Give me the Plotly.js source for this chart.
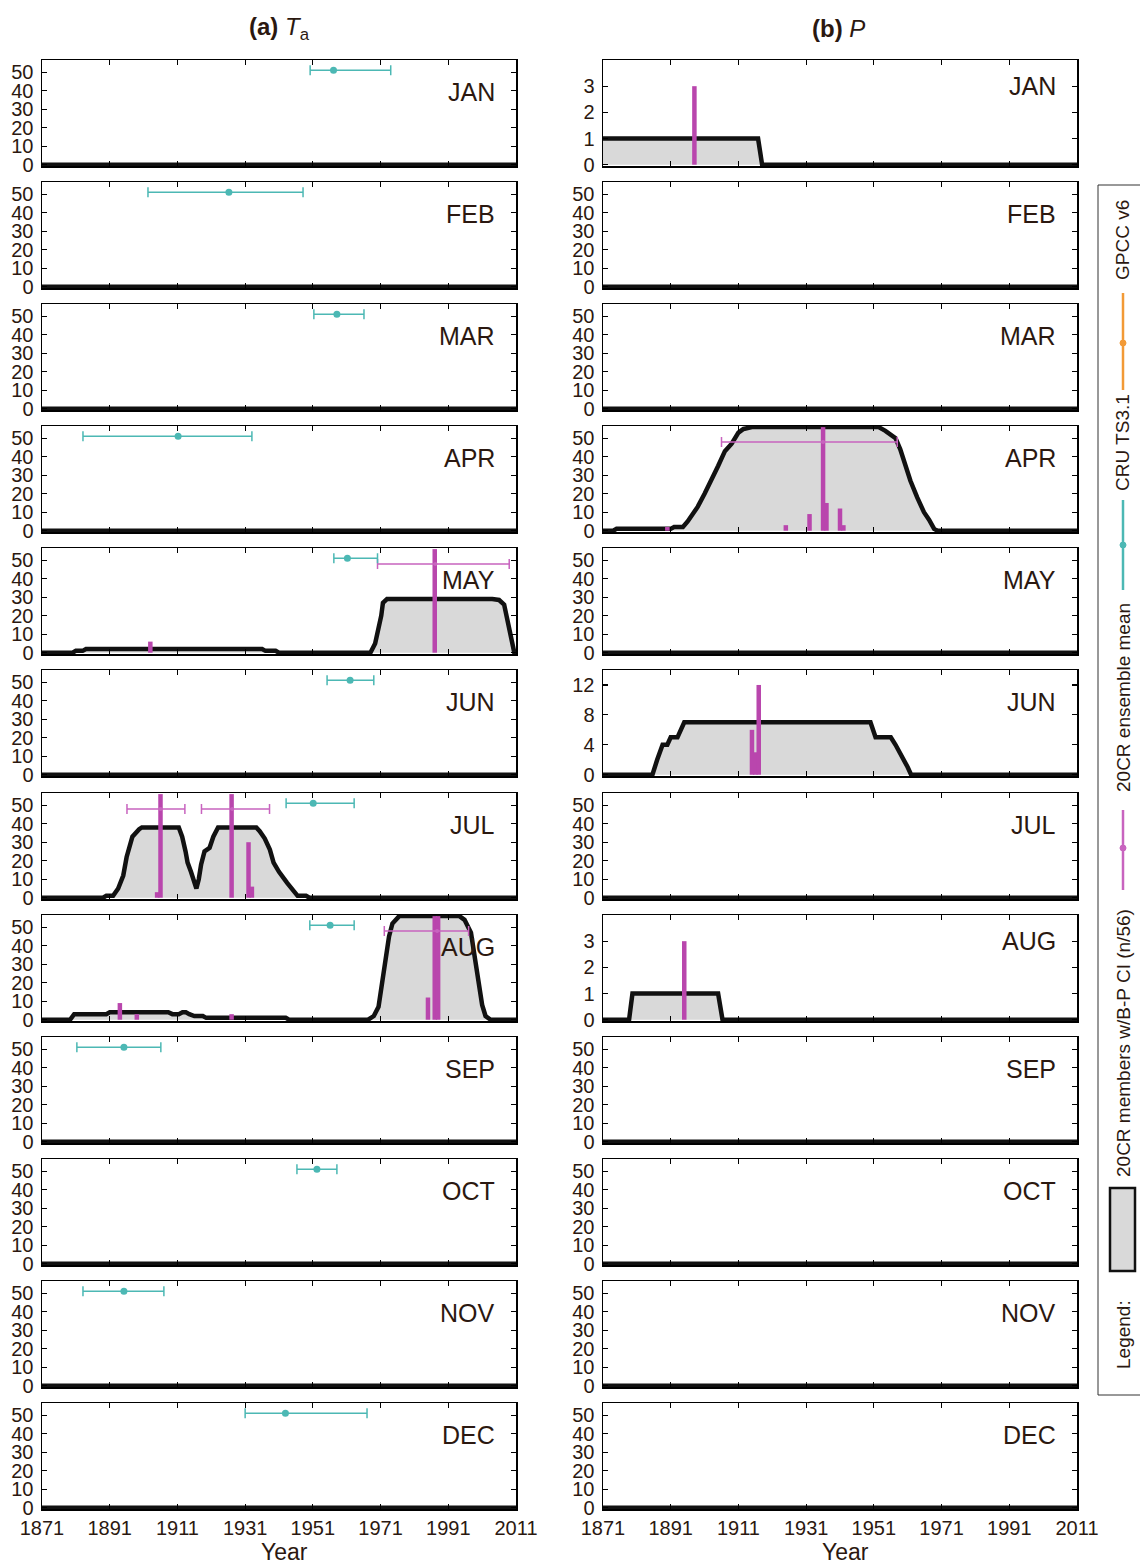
<!DOCTYPE html>
<html>
<head>
<meta charset="utf-8">
<script src="https://cdn.plot.ly/plotly-3.0.1.min.js"></script>
<style>
  html, body { margin: 0; padding: 0; background: #fff; }
  #chart { width: 1140px; height: 1566px; }
</style>
</head>
<body>
<div id="chart"></div>
<script>
// ---------------- DATA ----------------
const months = ['JAN','FEB','MAR','APR','MAY','JUN','JUL','AUG','SEP','OCT','NOV','DEC'];
const xTicks = [1871, 1891, 1911, 1931, 1951, 1971, 1991, 2011];

// (a) Ta : CRU TS3.1 breakpoint year and confidence interval, per month
const taCruYear = [1957.1, 1926.2, 1958.1, 1911.2, 1961.2, 1962.0, 1951.1, 1956.1, 1895.2, 1952.2, 1895.2, 1942.9];
const taCruLow  = [1950.2, 1902.3, 1951.3, 1883.1, 1957.2, 1955.2, 1943.1, 1950.1, 1881.3, 1946.3, 1883.1, 1931.0];
const taCruHigh = [1974.0, 1948.1, 1966.1, 1933.0, 1970.1, 1969.0, 1963.2, 1963.2, 1906.1, 1958.1, 1907.0, 1967.0];

// (a) Ta : 20CR members whose B-P CI covers the year (n/56)
const taMayCovYear = [1871, 1880, 1881, 1883, 1884, 1936, 1937, 1940, 1941, 1968, 1969.4, 1970.4, 1971.2, 1971.7, 1972.9, 2004, 2006, 2007.5, 2008.5, 2009.5, 2010.5, 2011];
const taMayCovN    = [0, 0, 1, 1, 2, 2, 1, 1, 0, 0, 5, 12, 20, 27, 29, 29, 28.5, 26, 18, 8, 0, 0];
const taJulCovYear = [1871, 1889, 1890, 1892, 1893.5, 1895, 1896, 1897.7, 1899.7, 1900.5, 1911.4, 1912.4, 1913.4, 1914, 1915, 1916, 1916.6, 1917.3, 1918, 1919, 1920.5, 1921.6, 1923, 1934.3, 1935.3, 1936.8, 1938.3, 1939.4, 1941, 1943.4, 1945.5, 1946.5, 1949, 1950, 2011];
const taJulCovN    = [0, 0, 1, 1, 5, 12, 22, 33, 37, 38, 38, 33, 25, 19, 14, 7, 5, 10, 18, 25, 27, 33, 38, 38, 36, 32, 26, 19, 14, 8, 3, 1, 1, 0, 0];
const taAugCovYear = [1871, 1879.3, 1880.5, 1890, 1891, 1908.3, 1909.5, 1911.4, 1912.5, 1913.5, 1914.5, 1916, 1918.5, 1919.5, 1943, 1944, 1967.3, 1969, 1970.4, 1971.5, 1972.5, 1973.5, 1974.5, 1976.5, 1994.3, 1995.8, 1997.7, 1998.9, 2000, 2001, 2002, 2003.5, 2011];
const taAugCovN    = [0, 0, 3, 3, 4, 4, 3, 3, 4, 4, 3, 2, 2, 1, 1, 0, 0, 2, 7, 20, 35, 45, 52, 56, 56, 54, 47, 33, 20, 8, 2, 0, 0];

// (a) Ta : number of 20CR members with breakpoint in each year
const taMayBarYear = [1903, 1987];
const taMayBarN    = [6, 56];
const taJulBarYear = [1905, 1906, 1927, 1932, 1933];
const taJulBarN    = [3, 56, 56, 30, 6];
const taAugBarYear = [1894, 1899, 1927, 1985, 1987, 1988];
const taAugBarN    = [9, 3, 3, 12, 56, 56];

// (a) Ta : 20CR ensemble mean breakpoint and CI
const taEnsMonth = [4, 6, 6, 7];
const taEnsYear  = [1987.2, 1906.0, 1927.2, 1987.7];
const taEnsLow   = [1970.1, 1896.1, 1918.1, 1972.1];
const taEnsHigh  = [2009.0, 1913.2, 1938.2, 1997.0];

// (b) P : coverage curves (n/56)
const pJanCovYear = [1871, 1916.8, 1918, 2011];
const pJanCovN    = [1, 1, 0, 0];
const pAprCovYear = [1871, 1874, 1875, 1891, 1892, 1894.6, 1896, 1899, 1901, 1903, 1905, 1907, 1909, 1911, 1912.5, 1915, 1952.4, 1954.4, 1957.4, 1958.8, 1960.3, 1961.8, 1963.8, 1965.8, 1967.3, 1968.8, 1969.8, 2011];
const pAprCovN    = [0, 0, 1, 1, 2, 2, 5, 13, 20, 27, 35, 43, 47, 53, 55, 56, 56, 54, 50, 44, 35, 27, 18, 10, 6, 1, 0, 0];
const pJunCovYear = [1871, 1885.6, 1887, 1888.6, 1890, 1891, 1893, 1895, 1950, 1951.5, 1956, 1957.4, 1961, 1962, 2011];
const pJunCovN    = [0, 0, 2, 4, 4, 5, 5, 7, 7, 5, 5, 4, 1, 0, 0];
const pAugCovYear = [1871, 1878.7, 1879.7, 1905, 1906.3, 2011];
const pAugCovN    = [0, 0, 1, 1, 0, 0];

// (b) P : member breakpoint counts
const pJanBarYear = [1898];
const pJanBarN    = [3];
const pAprBarYear = [1890, 1925, 1932, 1936, 1937, 1941, 1942];
const pAprBarN    = [2, 3, 9, 56, 15, 12, 3];
const pJunBarYear = [1915, 1916, 1917];
const pJunBarN    = [6, 3, 12];
const pAugBarYear = [1895];
const pAugBarN    = [3];

// (b) P : ensemble mean breakpoint and CI
const pEnsMonth = [3];
const pEnsYear  = [1936.0];
const pEnsLow   = [1906.0];
const pEnsHigh  = [1957.9];

// (b) P : y-axis ranges/ticks that differ from the default n/56 scale
const pSpecialMonth = [0, 5, 7];
const pSpecialMax   = [4, 14, 4];
const pSpecialTicks = [[0,1,2,3], [0,4,8,12], [0,1,2,3]];

// ---------------- STYLE / GEOMETRY ----------------
const W = 1140, H = 1566;
const FONT = 'Liberation Sans, Arial, Helvetica, sans-serif';
const TXT = '#2b1810';
const TEAL = '#4cb8b4';
const MAG = '#b946ad';
const MAG_LT = '#c864bf';
const ORANGE = '#f29a36';
const GREY = '#d9d9d9';
const CRU_LEVEL = 51, ENS_LEVEL = 48;

const colLeft = [42, 603], colWidth = 474;
const rowTop0 = 60, rowPitch = 122.09, rowH = 106;

const px = v => v / W;
const py = v => 1 - v / H;

const taCov = {4: [taMayCovYear, taMayCovN], 6: [taJulCovYear, taJulCovN], 7: [taAugCovYear, taAugCovN]};
const taBars = {4: [taMayBarYear, taMayBarN], 6: [taJulBarYear, taJulBarN], 7: [taAugBarYear, taAugBarN]};
const pCov = {0: [pJanCovYear, pJanCovN], 3: [pAprCovYear, pAprCovN], 5: [pJunCovYear, pJunCovN], 7: [pAugCovYear, pAugCovN]};
const pBars = {0: [pJanBarYear, pJanBarN], 3: [pAprBarYear, pAprBarN], 5: [pJunBarYear, pJunBarN], 7: [pAugBarYear, pAugBarN]};

const data = [];
const layout = {
  width: W, height: H,
  margin: {l: 0, r: 0, t: 0, b: 0, pad: 0},
  paper_bgcolor: '#fff', plot_bgcolor: '#fff',
  showlegend: false,
  font: {family: FONT, color: TXT},
  annotations: [], shapes: []
};

function axisBase() {
  return {
    showline: true, linecolor: '#000', linewidth: 1.5, mirror: 'ticks',
    ticks: 'inside', ticklen: 5, tickwidth: 1.2, tickcolor: '#000',
    showgrid: false, zeroline: false, fixedrange: true,
    tickfont: {family: FONT, size: 20, color: TXT}
  };
}

for (let c = 0; c < 2; c++) {
  for (let m = 0; m < 12; m++) {
    const k = c * 12 + m + 1;
    const sfx = k === 1 ? '' : String(k);
    const xid = 'x' + sfx, yid = 'y' + sfx;
    const top = Math.round(rowTop0 + m * rowPitch), bot = top + rowH;

    let yMax = 56.6, yTicks = [0, 10, 20, 30, 40, 50];
    if (c === 1) {
      const si = pSpecialMonth.indexOf(m);
      if (si >= 0) { yMax = pSpecialMax[si]; yTicks = pSpecialTicks[si]; }
    }
    // small padding below zero so the thick zero line merges with the frame
    const yMin = -yMax * 1.3 / rowH;

    layout['xaxis' + sfx] = Object.assign(axisBase(), {
      domain: [px(colLeft[c]), px(colLeft[c] + colWidth)],
      anchor: yid, range: [1871, 2011], tickmode: 'array', tickvals: xTicks,
      ticktext: xTicks.map(String), showticklabels: m === 11
    });
    layout['yaxis' + sfx] = Object.assign(axisBase(), {
      domain: [py(bot), py(top)], anchor: xid,
      range: [yMin, yMax], tickmode: 'array', tickvals: yTicks, ticktext: yTicks.map(String),
      ticklabelstandoff: 3
    });

    // coverage curve (grey fill + thick black outline)
    const cov = (c === 0 ? taCov : pCov)[m] || [[1871, 2011], [0, 0]];
    data.push({
      type: 'scatter', mode: 'lines', x: cov[0], y: cov[1], xaxis: xid, yaxis: yid,
      fill: 'tozeroy', fillcolor: GREY, line: {color: '#111', width: 4.5}, hoverinfo: 'skip'
    });

    // member breakpoint counts (bars drawn as thick vertical segments)
    const bars = (c === 0 ? taBars : pBars)[m];
    if (bars) {
      const bx = [], by = [];
      bars[0].forEach((yr, i) => { bx.push(yr, yr, null); by.push(0, bars[1][i], null); });
      data.push({
        type: 'scatter', mode: 'lines', x: bx, y: by, xaxis: xid, yaxis: yid,
        line: {color: MAG, width: 4.5}, hoverinfo: 'skip'
      });
    }

    // ensemble mean breakpoint + CI
    const eMonth = c === 0 ? taEnsMonth : pEnsMonth;
    const eYear = c === 0 ? taEnsYear : pEnsYear;
    const eLow = c === 0 ? taEnsLow : pEnsLow;
    const eHigh = c === 0 ? taEnsHigh : pEnsHigh;
    eMonth.forEach((mm, i) => {
      if (mm !== m) return;
      data.push({
        type: 'scatter', mode: 'markers', x: [eYear[i]], y: [ENS_LEVEL], xaxis: xid, yaxis: yid,
        marker: {color: MAG_LT, size: 4},
        error_x: {type: 'data', symmetric: false, array: [eHigh[i] - eYear[i]], arrayminus: [eYear[i] - eLow[i]],
                  color: MAG_LT, thickness: 1.5, width: 5},
        cliponaxis: false, hoverinfo: 'skip'
      });
    });

    // CRU TS3.1 breakpoint + CI (Ta only)
    if (c === 0) {
      data.push({
        type: 'scatter', mode: 'markers', x: [taCruYear[m]], y: [CRU_LEVEL], xaxis: xid, yaxis: yid,
        marker: {color: TEAL, size: 7},
        error_x: {type: 'data', symmetric: false, array: [taCruHigh[m] - taCruYear[m]], arrayminus: [taCruYear[m] - taCruLow[m]],
                  color: TEAL, thickness: 1.5, width: 5},
        hoverinfo: 'skip'
      });
    }

    // month label
    const special = c === 1 && pSpecialMonth.indexOf(m) >= 0 && m !== 5;
    layout.annotations.push({
      xref: xid + ' domain', yref: yid + ' domain', x: 0.96, y: special ? 0.755 : 0.70,
      xanchor: 'right', yanchor: 'middle', showarrow: false, text: months[m],
      font: {family: FONT, size: 25, color: TXT}
    });
  }
}

// Panel titles
layout.annotations.push({
  xref: 'paper', yref: 'paper', x: px(279), y: py(28), xanchor: 'center', yanchor: 'middle', showarrow: false,
  text: '<b>(a)</b> <i>T</i><sub>a</sub>', font: {family: FONT, size: 24, color: TXT}
});
layout.annotations.push({
  xref: 'paper', yref: 'paper', x: px(838), y: py(28), xanchor: 'center', yanchor: 'middle', showarrow: false,
  text: '<b>(b)</b> <i>P</i>', font: {family: FONT, size: 24, color: TXT}
});
// x-axis titles
[284, 845].forEach(cx => layout.annotations.push({
  xref: 'paper', yref: 'paper', x: px(cx), y: py(1552), xanchor: 'center', yanchor: 'middle', showarrow: false,
  text: 'Year', font: {family: FONT, size: 23, color: TXT}
}));

// ---------------- LEGEND (rotated, right side) ----------------
const LX = 1123;
layout.shapes.push({type: 'rect', xref: 'paper', yref: 'paper', x0: px(1098), x1: px(1160), y0: py(1395), y1: py(185),
  line: {color: '#333', width: 1}, fillcolor: 'rgba(0,0,0,0)'});
layout.shapes.push({type: 'rect', xref: 'paper', yref: 'paper', x0: px(1110), x1: px(1135), y0: py(1271), y1: py(1188),
  line: {color: '#111', width: 2.5}, fillcolor: GREY});
const legLines = [[MAG_LT, 810, 890, 848], [TEAL, 500, 590, 545], [ORANGE, 293, 390, 343]];
legLines.forEach(([col, y0, y1, yd]) => {
  layout.shapes.push({type: 'line', xref: 'paper', yref: 'paper', x0: px(LX), x1: px(LX), y0: py(y1), y1: py(y0),
    line: {color: col, width: 2.5}});
  layout.shapes.push({type: 'circle', xref: 'paper', yref: 'paper', x0: px(LX - 3), x1: px(LX + 3), y0: py(yd + 3), y1: py(yd - 3),
    line: {color: col, width: 1}, fillcolor: col});
});
const legTexts = [['Legend:', 1335], ['20CR members w/B-P CI (n/56)', 1043], ['20CR ensemble mean', 698], ['CRU TS3.1', 443], ['GPCC v6', 240]];
legTexts.forEach(([t, cy]) => layout.annotations.push({
  xref: 'paper', yref: 'paper', x: px(LX), y: py(cy), xanchor: 'center', yanchor: 'middle', showarrow: false,
  textangle: -90, text: t, font: {family: FONT, size: 19, color: TXT}
}));

Plotly.newPlot('chart', data, layout, {staticPlot: true, displayModeBar: false});
</script>
</body>
</html>
